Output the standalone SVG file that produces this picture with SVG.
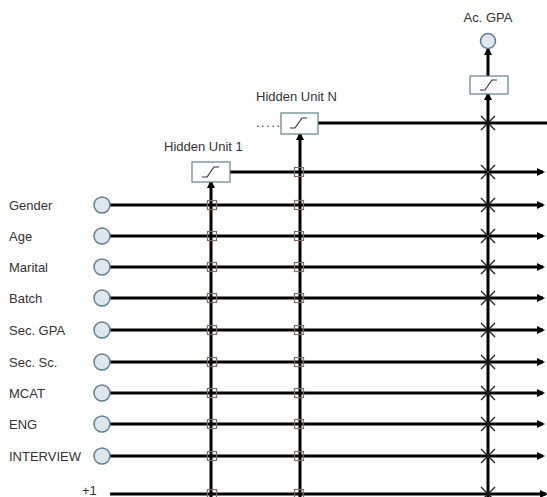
<svg xmlns="http://www.w3.org/2000/svg" width="547" height="497" viewBox="0 0 547 497">
<style>
.t{font-family:"Liberation Sans",Arial,sans-serif;font-size:13px;fill:#333}
.ln{stroke:#000;stroke-width:3;fill:none}
.la{stroke:#000;stroke-width:3;fill:none;marker-end:url(#ah)}
.in{fill:#dfe6ef;stroke:#5f7f8c;stroke-width:1.5}
.box{fill:#fff;stroke:#5f8388;stroke-width:1.2}
.sig{fill:none;stroke:#333;stroke-width:1.2}
.sq{fill:none;stroke:#7d6e66;stroke-width:1.2}
.x{stroke:#222;stroke-width:1.4}
</style>
<defs>
<marker id="ah" markerWidth="8" markerHeight="8" refX="6" refY="4" orient="auto" markerUnits="userSpaceOnUse">
<path d="M0,0 L8,4 L0,8 Z" fill="#000"/>
</marker>
<g id="sqm"><rect class="sq" x="-4.5" y="-4.5" width="9" height="9"/></g>
<g id="xm"><path class="x" d="M-7,-7 L7,7 M-7,7 L7,-7"/></g>
</defs>
<rect width="547" height="497" fill="#fff"/>
<g id="connectors">
<line class="la" x1="110" y1="205" x2="543" y2="205"/>
<line class="la" x1="110" y1="236" x2="543" y2="236"/>
<line class="la" x1="110" y1="267" x2="543" y2="267"/>
<line class="la" x1="110" y1="298" x2="543" y2="298"/>
<line class="la" x1="110" y1="330" x2="543" y2="330"/>
<line class="la" x1="110" y1="362" x2="543" y2="362"/>
<line class="la" x1="110" y1="393" x2="543" y2="393"/>
<line class="la" x1="110" y1="424" x2="543" y2="424"/>
<line class="la" x1="110" y1="456" x2="543" y2="456"/>
<line class="la" x1="110" y1="494" x2="546" y2="494"/>
<line class="la" x1="230" y1="172" x2="543" y2="172"/>
<line class="ln" x1="318" y1="123" x2="547" y2="123"/>
<line class="la" x1="211" y1="497" x2="211" y2="182"/>
<line class="la" x1="300" y1="497" x2="300" y2="134"/>
<line class="la" x1="488" y1="497" x2="488" y2="94"/>
<line class="la" x1="488" y1="76" x2="488" y2="49"/>
<g id="squares">
<use href="#sqm" x="212" y="205"/><use href="#sqm" x="212" y="236"/><use href="#sqm" x="212" y="267"/><use href="#sqm" x="212" y="298"/><use href="#sqm" x="212" y="330"/><use href="#sqm" x="212" y="362"/><use href="#sqm" x="212" y="393"/><use href="#sqm" x="212" y="424"/><use href="#sqm" x="212" y="456"/><use href="#sqm" x="212" y="494"/>
<use href="#sqm" x="299" y="172"/><use href="#sqm" x="299" y="205"/><use href="#sqm" x="299" y="236"/><use href="#sqm" x="299" y="267"/><use href="#sqm" x="299" y="298"/><use href="#sqm" x="299" y="330"/><use href="#sqm" x="299" y="362"/><use href="#sqm" x="299" y="393"/><use href="#sqm" x="299" y="424"/><use href="#sqm" x="299" y="456"/><use href="#sqm" x="299" y="494"/>
</g>
<g id="crosses">
<use href="#xm" x="488" y="123"/><use href="#xm" x="488" y="172"/><use href="#xm" x="488" y="205"/><use href="#xm" x="488" y="236"/><use href="#xm" x="488" y="267"/><use href="#xm" x="488" y="298"/><use href="#xm" x="488" y="330"/><use href="#xm" x="488" y="362"/><use href="#xm" x="488" y="393"/><use href="#xm" x="488" y="424"/><use href="#xm" x="488" y="456"/><use href="#xm" x="488" y="494"/>
</g>
</g>
<g id="in-gender"><circle class="in" cx="102" cy="205" r="8"/><text class="t" x="9" y="210">Gender</text></g>
<g id="in-age"><circle class="in" cx="102" cy="236" r="8"/><text class="t" x="9" y="241">Age</text></g>
<g id="in-marital"><circle class="in" cx="102" cy="267" r="8"/><text class="t" x="9" y="272">Marital</text></g>
<g id="in-batch"><circle class="in" cx="102" cy="298" r="8"/><text class="t" x="9" y="303">Batch</text></g>
<g id="in-secgpa"><circle class="in" cx="102" cy="330" r="8"/><text class="t" x="9" y="335">Sec. GPA</text></g>
<g id="in-secsc"><circle class="in" cx="102" cy="362" r="8"/><text class="t" x="9" y="367">Sec. Sc.</text></g>
<g id="in-mcat"><circle class="in" cx="102" cy="393" r="8"/><text class="t" x="9" y="398">MCAT</text></g>
<g id="in-eng"><circle class="in" cx="102" cy="424" r="8"/><text class="t" x="9" y="429">ENG</text></g>
<g id="in-interview"><circle class="in" cx="102" cy="456" r="8"/><text class="t" x="9" y="461">INTERVIEW</text></g>
<g id="bias"><text class="t" x="82" y="495">+1</text></g>
<g id="hidden1"><rect class="box" x="192" y="162" width="38" height="20"/><path class="sig" d="M202,177 L207,177 L214,167 L219,167"/><text class="t" x="164" y="151">Hidden Unit 1</text></g>
<g id="hiddenN"><rect class="box" x="281" y="113" width="37" height="21"/><path class="sig" d="M290,128 L295,128 L302,118 L307,118"/><text class="t" x="256" y="101">Hidden Unit N</text><text class="t" x="256" y="127" letter-spacing="1.5">.....</text></g>
<g id="output"><rect class="box" x="470" y="76" width="38" height="18"/><path class="sig" d="M480,90 L485,90 L492,80 L497,80"/><circle class="in" cx="488" cy="41" r="7.5"/><text class="t" x="488" y="22" text-anchor="middle">Ac. GPA</text></g>
</svg>
